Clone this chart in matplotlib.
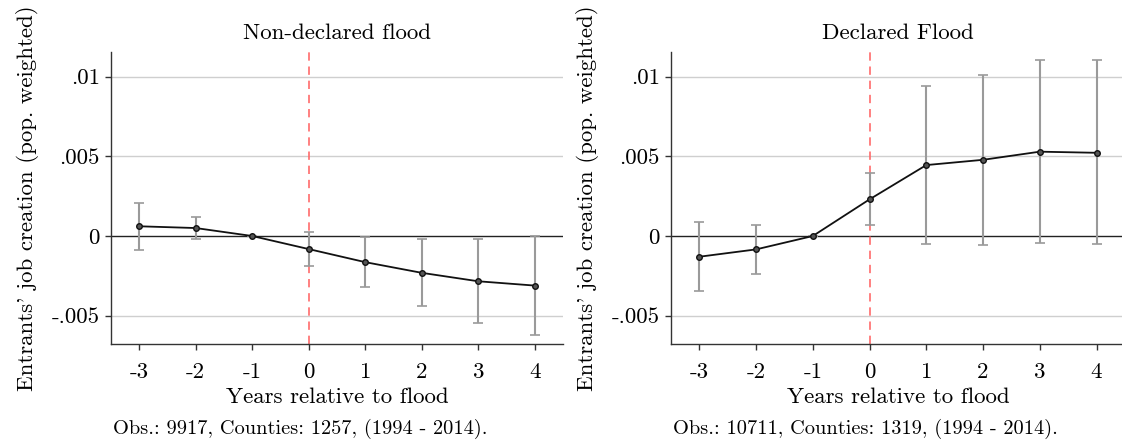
import matplotlib
matplotlib.use("Agg")
import matplotlib.pyplot as plt

plt.rcParams["font.family"] = ["cmr10", "DejaVu Serif"]
plt.rcParams["axes.formatter.use_mathtext"] = True

years = [-3, -2, -1, 0, 1, 2, 3, 4]
year_labels = ["-3", "-2", "-1", "0", "1", "2", "3", "4"]
y_ticks = [-0.005, 0, 0.005, 0.01]
y_tick_labels = ["-.005", "0", ".005", ".01"]

# non-declared flood: point estimate and 95% CI bounds
nd_coef = [0.00061, 0.00050, 0.0, -0.00082, -0.00164, -0.00231, -0.00284, -0.00311]
nd_lo = [-0.00086, -0.00021, 0.0, -0.00191, -0.00321, -0.00441, -0.00546, -0.00624]
nd_hi = [0.00208, 0.00122, 0.0, 0.00027, -0.00008, -0.00019, -0.00019, 0.0]

# declared flood
d_coef = [-0.00130, -0.00084, 0.0, 0.00230, 0.00445, 0.00478, 0.00529, 0.00522]
d_lo = [-0.00343, -0.00236, 0.0, 0.00069, -0.00050, -0.00054, -0.00046, -0.00052]
d_hi = [0.00086, 0.00069, 0.0, 0.00393, 0.00944, 0.01013, 0.01101, 0.01101]

titles = ["Non-declared flood", "Declared Flood"]
notes = ["Obs.: 9917, Counties: 1257, (1994 - 2014).",
         "Obs.: 10711, Counties: 1319, (1994 - 2014)."]

fig = plt.figure(figsize=(11.22, 4.44), dpi=100)
ax1 = fig.add_axes([0.0989, 0.2252, 0.4029, 0.6583])
ax2 = fig.add_axes([0.5980, 0.2252, 0.4046, 0.6583])

panels = [(ax1, nd_coef, nd_lo, nd_hi), (ax2, d_coef, d_lo, d_hi)]
fs = 16.5

for i, (ax, coef, lo, hi) in enumerate(panels):
    yerr = [[c - l for c, l in zip(coef, lo)], [h - c for c, h in zip(coef, hi)]]
    for y in y_ticks:
        if y != 0:
            ax.axhline(y, color="#cfcfcf", lw=1.0, zorder=0)
    ax.axhline(0, color="#222222", lw=1.0, zorder=1)
    ax.axvline(0, color="#ff6b6b", lw=1.2, dashes=(5, 3.5), zorder=1)
    ax.errorbar(years, coef, yerr=yerr, fmt="none", ecolor="#9a9a9a",
                elinewidth=1.5, capsize=3.5, capthick=1.2, zorder=2)
    ax.plot(years, coef, color="#111111", lw=1.3, marker="o", markersize=4,
            markerfacecolor="#555555", markeredgecolor="#111111",
            markeredgewidth=1.0, zorder=3)

    ax.set_xlim(-3.5, 4.5)
    ax.set_ylim(-0.006775, 0.01156)
    ax.set_xticks(years)
    ax.set_xticklabels(year_labels, fontsize=fs)
    ax.set_yticks(y_ticks)
    ax.set_yticklabels(y_tick_labels, fontsize=fs)
    ax.tick_params(direction="out", length=4.5, width=1, color="#333333")
    ax.tick_params(axis="x", pad=9)
    ax.tick_params(axis="y", pad=3.5)
    for side in ["top", "right"]:
        ax.spines[side].set_visible(False)
    for side in ["left", "bottom"]:
        ax.spines[side].set_color("#333333")
        ax.spines[side].set_linewidth(1.0)

    ax.set_title(titles[i], fontsize=fs, pad=9)
    ax.set_xlabel("Years relative to flood", fontsize=fs, labelpad=4)
    ax.set_ylabel("Entrants' job creation (pop. weighted)", fontsize=fs, labelpad=9)
    x0 = ax.get_position().x0
    fig.text(x0 + 0.002, 1 - 434 / 444, notes[i], fontsize=14.7, ha="left", va="baseline")

fig.savefig("out.png", dpi=100)
